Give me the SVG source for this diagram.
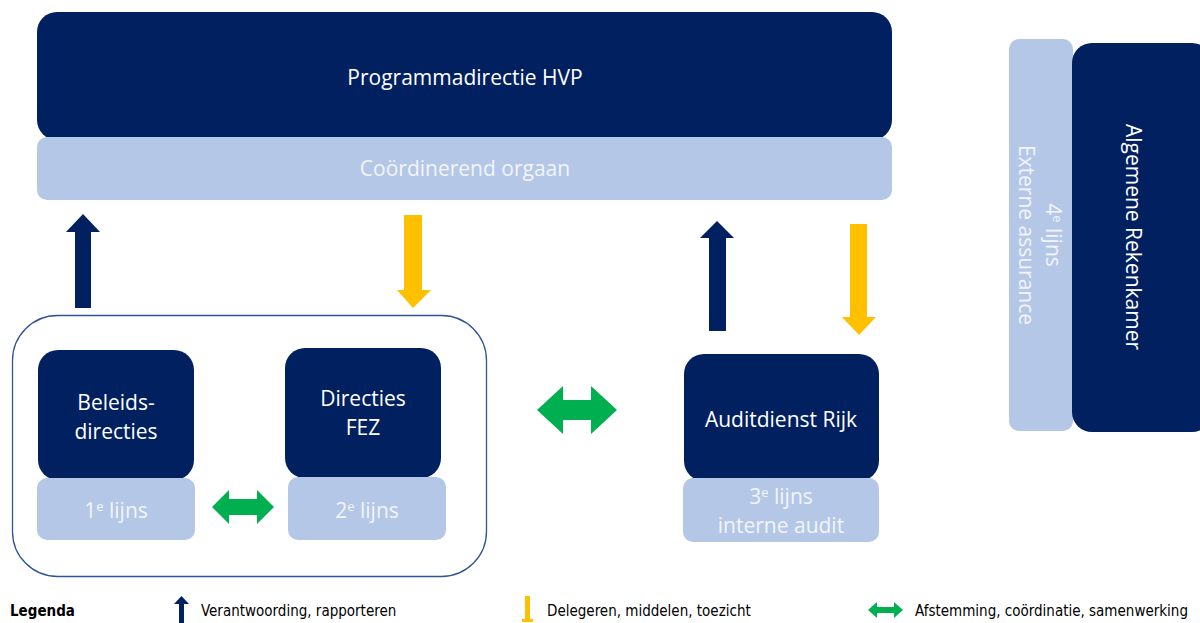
<svg xmlns="http://www.w3.org/2000/svg" width="1200" height="623" viewBox="0 0 1200 623">
<style>
.dark{fill:#002060}
.light{fill:#B4C7E7}
.t{font-family:"Open Sans","Noto Sans",sans-serif;font-size:21px;text-anchor:middle}
.tw{fill:#FFFFFF}
.tl{fill:#F2F5FB}
.leg{font-family:"DejaVu Sans Condensed","DejaVu Sans",sans-serif;font-size:15px;fill:#000}
.up{fill:#002060}
.down{fill:#FFC000}
.both{fill:#00B050}
</style>
<rect width="1200" height="623" fill="#fff"/>

<g id="programmadirectie">
<rect x="37" y="12" width="855" height="128" rx="20" class="dark"/>
<text x="465" y="85" class="t tw">Programmadirectie HVP</text>
</g>
<g id="coordinerend">
<rect x="37" y="137" width="855" height="63" rx="10" class="light"/>
<text x="465" y="176" class="t tl">Coördinerend orgaan</text>
</g>

<g id="vierde-lijns">
<rect x="1009" y="39" width="64" height="392" rx="10" class="light"/>
<text transform="translate(1041,235) rotate(90)" class="t tl"><tspan x="0" y="-5">4<tspan font-size="13" dy="-7">e</tspan><tspan dy="7"> lijns</tspan></tspan><tspan x="0" y="22">Externe assurance</tspan></text>
</g>
<g id="rekenkamer">
<rect x="1072" y="43" width="140" height="389" rx="20" class="dark"/>
<text transform="translate(1133,237) rotate(90)" class="t tw" y="7">Algemene Rekenkamer</text>
</g>

<g id="container">
<rect x="12.5" y="315.5" width="474" height="261" rx="45" fill="none" stroke="#2F5597" stroke-width="1.3"/>
</g>

<g id="beleidsdirecties">
<rect x="38" y="350" width="156" height="130" rx="20" class="dark"/>
<text class="t tw"><tspan x="116" y="410">Beleids-</tspan><tspan x="116" y="439">directies</tspan></text>
</g>
<g id="eerste-lijns">
<rect x="37" y="478" width="158" height="62" rx="10" class="light"/>
<text x="116" y="518" class="t tl">1<tspan font-size="13" dy="-7">e</tspan><tspan dy="7"> lijns</tspan></text>
</g>

<g id="directies-fez">
<rect x="285" y="348" width="156" height="130" rx="20" class="dark"/>
<text class="t tw"><tspan x="363" y="406">Directies</tspan><tspan x="363" y="435">FEZ</tspan></text>
</g>
<g id="tweede-lijns">
<rect x="288" y="477" width="158" height="63" rx="10" class="light"/>
<text x="367" y="518" class="t tl">2<tspan font-size="13" dy="-7">e</tspan><tspan dy="7"> lijns</tspan></text>
</g>

<g id="auditdienst">
<rect x="684" y="354" width="195" height="127" rx="20" class="dark"/>
<text x="781" y="427" class="t tw">Auditdienst Rijk</text>
</g>
<g id="derde-lijns">
<rect x="683" y="478" width="196" height="64" rx="10" class="light"/>
<text class="t tl"><tspan x="781" y="504">3<tspan font-size="13" dy="-7">e</tspan><tspan dy="7"> lijns</tspan></tspan><tspan x="781" y="533">interne audit</tspan></text>
</g>

<g id="connectors">
<polygon class="up" points="75,308 75,232 66,232 83,214 100,232 91,232 91,308"/>
<polygon class="down" points="404,215 422,215 422,290 431,290 413,308 397,290 404,290"/>
<polygon class="up" points="709,331 709,238 700,238 717,221 734,238 726,238 726,331"/>
<polygon class="down" points="850,224 867,224 867,317 876,317 859,335 842,317 850,317"/>
<polygon class="both" points="537,410 563,386 563,400 591,400 591,386 617,410 591,434 591,420 563,420 563,434"/>
<polygon class="both" points="212,507 229,490 229,499 257,499 257,490 274,507 257,524 257,515 229,515 229,524"/>
</g>

<g id="legenda">
<text x="10" y="616" class="leg" font-weight="bold">Legenda</text>
<polygon class="up" points="179,623 179,604 174,604 181.5,596 189,604 184,604 184,623"/>
<text x="201" y="616" class="leg">Verantwoording, rapporteren</text>
<polygon class="down" points="525,596 530,596 530,619 533,619 533,622 522,622 522,619 525,619"/>
<text x="547" y="616" class="leg">Delegeren, middelen, toezicht</text>
<polygon class="both" points="868,610 877,602 877,607 894,607 894,602 903,610 894,618 894,613 877,613 877,618"/>
<text x="915" y="616" class="leg">Afstemming, coördinatie, samenwerking</text>
</g>
</svg>
